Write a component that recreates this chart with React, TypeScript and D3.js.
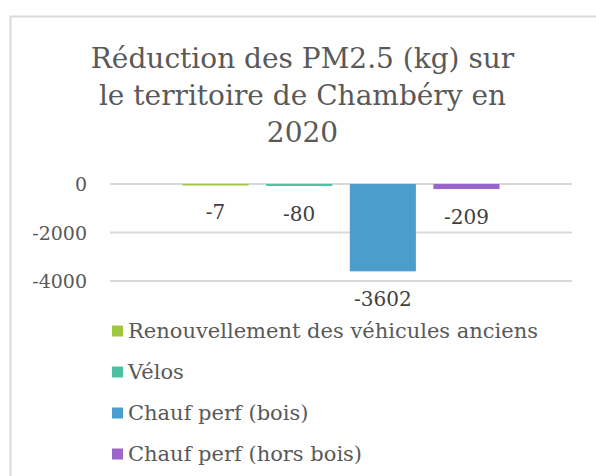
import React from "react";
import * as d3 from "d3";

const titleLines = ["Réduction des PM2.5 (kg) sur", "le territoire de Chambéry en", "2020"];
const seriesNames = [
  "Renouvellement des véhicules anciens",
  "Vélos",
  "Chauf perf (bois)",
  "Chauf perf (hors bois)",
];
const seriesValues = [-7, -80, -3602, -209];
const seriesColors = ["#9fc83f", "#4cc1a1", "#4a9dcc", "#9b66cc"];
const yTicks = [0, -2000, -4000];

const W = 596;
const H = 476;
const FONT = "'DejaVu Serif', serif";

export default function App() {
  const plotLeft = 110;
  const plotRight = 572;
  const y = d3.scaleLinear().domain([-4000, 0]).range([281, 184]);
  const cx = (plotLeft + plotRight) / 2;
  const groupHalf = 158.5;
  const x = d3
    .scaleBand<string>()
    .domain(seriesNames)
    .range([cx - groupHalf, cx + groupHalf])
    .paddingInner(0.21)
    .paddingOuter(0);

  return (
    <svg
      width={W}
      height={H}
      style={{ position: "absolute", left: 0, top: 0, background: "#fff" }}
    >
      <rect x={0} y={0} width={W} height={H} fill="#fff" />
      <rect x={10.5} y={16.5} width={W + 20} height={H + 20} fill="#fff" stroke="#d9d9d9" strokeWidth={2} />
      {titleLines.map((t, i) => (
        <text
          key={i}
          x={302.5}
          y={68 + i * 37}
          textAnchor="middle"
          fontFamily={FONT}
          fontSize={28}
          fill="#595959"
        >
          {t}
        </text>
      ))}
      {yTicks.map((t) => (
        <g key={t}>
          <line x1={plotLeft} x2={plotRight} y1={y(t)} y2={y(t)} stroke="#d9d9d9" strokeWidth={2} />
          <text
            x={87}
            y={y(t) + 7}
            textAnchor="end"
            fontFamily={FONT}
            fontSize={19}
            fill="#595959"
          >
            {d3.format("d")(t).replace("−", "-")}
          </text>
        </g>
      ))}
      {seriesNames.map((s, i) => {
        const v = seriesValues[i];
        const y0 = y(0);
        const y1 = y(v);
        return (
          <g key={s}>
            <rect
              x={x(s)}
              y={Math.min(y0, y1)}
              width={x.bandwidth()}
              height={Math.max(1.5, Math.abs(y1 - y0))}
              fill={seriesColors[i]}
            />
            <text
              x={(x(s) ?? 0) + x.bandwidth() / 2}
              y={y1 + 35}
              textAnchor="middle"
              fontFamily={FONT}
              fontSize={20}
              fill="#404040"
            >
              {String(v)}
            </text>
          </g>
        );
      })}
      {seriesNames.map((s, i) => (
        <g key={"lg" + s} transform={`translate(112, ${331 + i * 41})`}>
          <rect x={0} y={-5.5} width={11} height={11} fill={seriesColors[i]} />
          <text x={16} y={7} fontFamily={FONT} fontSize={21} fill="#595959">
            {s}
          </text>
        </g>
      ))}
    </svg>
  );
}
